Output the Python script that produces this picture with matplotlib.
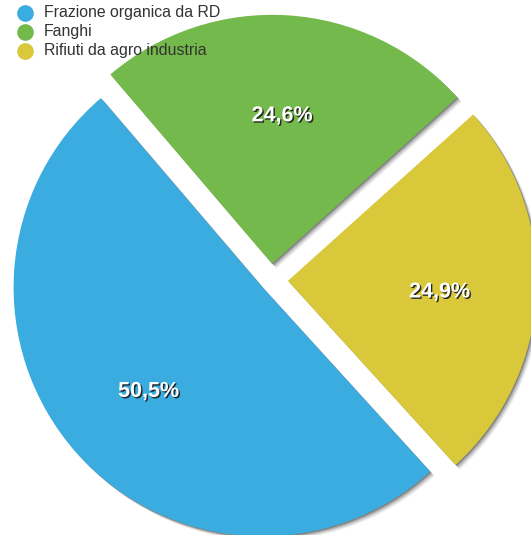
import numpy as np
import matplotlib
matplotlib.use('Agg')
import matplotlib.pyplot as plt
import matplotlib.patheffects as pe

# dati
etichette = ['Frazione organica da RD', 'Fanghi', 'Rifiuti da agro industria']
valori = [50.5, 24.6, 24.9]
colori = ['#3BACE0', '#74B94B', '#D8C83A']
esplosione = [0.045, 0.065, 0.068]

W, H = 531, 535
R = 249.0          # raggio in pixel
cx, cy = 271, 280  # centro della torta in pixel

plt.rcParams['font.family'] = ['Liberation Sans', 'DejaVu Sans']

fig = plt.figure(figsize=(W / 100, H / 100), dpi=100)
ax = fig.add_axes([0, 0, 1, 1])

ombra = [pe.SimplePatchShadow(offset=(o, -o), shadow_rgbFace='k', alpha=a)
         for o, a in [(3.2, 0.07), (2.4, 0.11), (1.6, 0.16), (0.8, 0.25)]]

def formato(p):
    return f'{p:.1f}%'.replace('.', ',')

spicchi, testi, pct = ax.pie(valori, colors=colori, explode=esplosione,
                             startangle=312.3, counterclock=False,
                             autopct=formato, pctdistance=0.61,
                             wedgeprops=dict(linewidth=0))

for w in spicchi:
    w.set_path_effects(ombra + [pe.Normal()])

for t in pct:
    x, y = t.get_position()
    t.set_position((x, y - 3.5 / R))
    t.set_color('white')
    t.set_fontsize(15.5)
    t.set_fontweight('bold')
    t.set_path_effects([pe.SimplePatchShadow(offset=(1.0, -1.0),
                                             shadow_rgbFace='#1a1a1a',
                                             alpha=0.9),
                        pe.Normal()])

ax.set_xlim(-cx / R, (W - cx) / R)
ax.set_ylim(-(H - cy) / R, cy / R)
ax.axis('off')

# legenda in coordinate pixel
leg = fig.add_axes([0, 0, 1, 1], zorder=5)
leg.set_xlim(0, W)
leg.set_ylim(H, 0)
leg.axis('off')
for i, (lab, col) in enumerate(zip(etichette, colori)):
    y = 12.5 + 19 * i
    leg.plot(25, y, 'o', color=col, markersize=12, markeredgewidth=0)
    leg.text(43.5, y, lab, fontsize=11.4, color='#333333', va='center', ha='left')

fig.savefig('out.png', dpi=100)
